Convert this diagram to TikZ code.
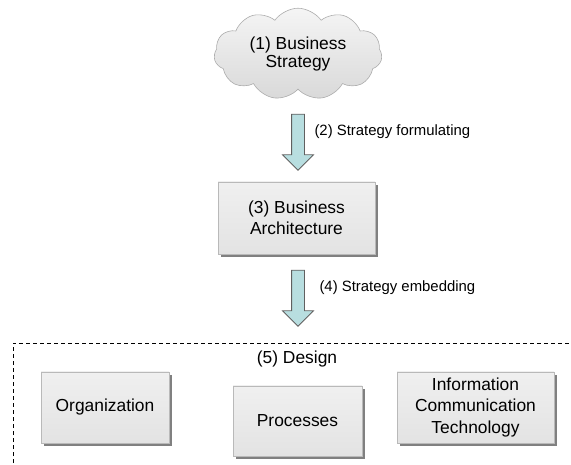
\documentclass[tikz,border=0pt]{standalone}
\usepackage{fontspec}
\setmainfont{Liberation Sans}
\usepackage{tikz}
\usetikzlibrary{positioning, shapes.symbols, shapes.arrows, shadows}
\definecolor{arrowfill}{HTML}{B8DEE0}
\definecolor{shadowgray}{HTML}{808080}

\begin{document}
\begin{tikzpicture}[x=1pt, y=-1pt,
    box/.style={draw=gray!55, line width=0.4pt, top color=gray!12, bottom color=gray!22,
        align=center, inner sep=2pt, font=\fontsize{17.4}{21.5}\selectfont,
        drop shadow={shadow xshift=3pt, shadow yshift=-3pt, fill=shadowgray, opacity=1}},
    bigarrow/.style={single arrow, draw=gray!75!black, line width=0.8pt, fill=arrowfill,
        rotate=-90, minimum height=56pt, inner sep=6pt, single arrow head extend=9pt},
    steplabel/.style={anchor=west, font=\fontsize{14.9}{18}\selectfont}]
    \useasboundingbox (0,0) rectangle (571,465);
    % Strategy
    \node[cloud, cloud puffs=11, cloud puff arc=110, aspect=2, draw=gray!65, line width=0.6pt,
        top color=gray!8, bottom color=gray!30, minimum width=168pt, minimum height=85pt,
        align=center, font=\fontsize{17.4}{18.5}\selectfont] (strategy) at (298,54) {(1) Business\\Strategy};
    \node[bigarrow] (formulate) at (298,139) {};
    \node[steplabel] (formulatelbl) at (311,132) {(2) Strategy formulating};
    \node[box, minimum width=157pt, minimum height=72pt] (arch) at (296.5,218) {(3) Business\\Architecture};
    \node[bigarrow] (embed) at (298,295) {};
    \node[steplabel] (embedlbl) at (316,288) {(4) Strategy embedding};

    % Design
    \draw[dashed, dash pattern=on 4pt off 3pt, line width=0.8pt] (13,470) |- (575,343);
    \node[font=\fontsize{17.4}{21.5}\selectfont] (design) at (297,359) {(5) Design};
    \node[box, minimum width=128pt, minimum height=71pt] (org) at (105,407.5) {Organization};
    \node[box, minimum width=129pt, minimum height=70pt] (proc) at (297.5,421) {Processes};
    \node[box, minimum width=157pt, minimum height=71pt] (ict) at (475.5,407.5) {Information\\Communication\\Technology};
\end{tikzpicture}
\end{document}
